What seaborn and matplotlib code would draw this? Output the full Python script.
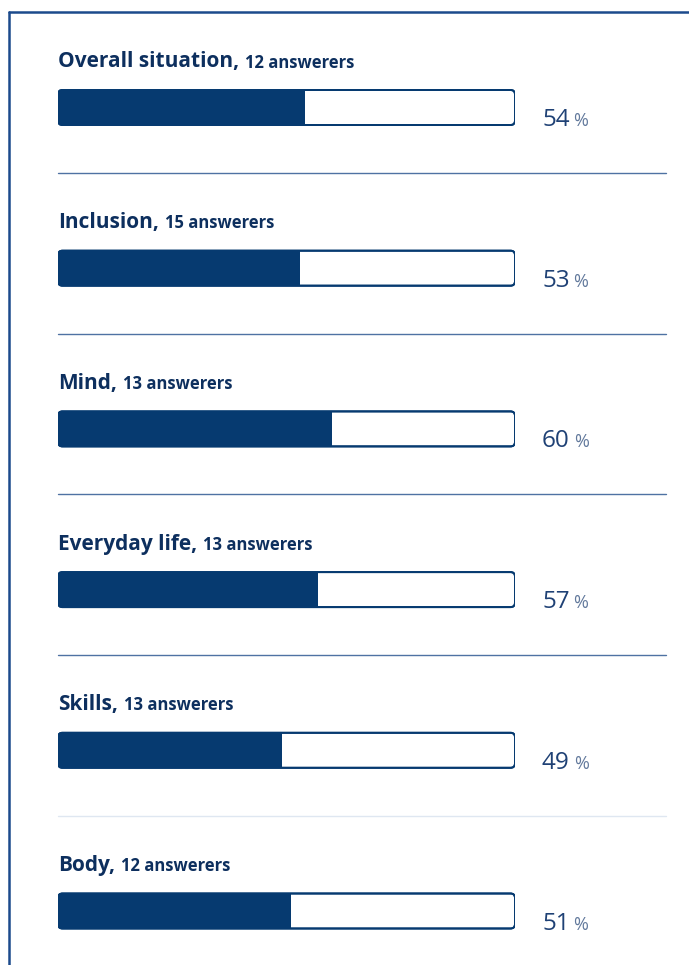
import matplotlib
matplotlib.use("Agg")
import matplotlib.pyplot as plt
import seaborn as sns
import pandas as pd
from matplotlib.patches import FancyBboxPatch
from matplotlib.lines import Line2D
import matplotlib.transforms as mtrans

# ---- data ----
categories = ["Overall situation", "Inclusion", "Mind", "Everyday life", "Skills", "Body"]
answerers = [12, 15, 13, 13, 13, 12]
percent = [54, 53, 60, 57, 49, 51]
full = [100, 100, 100, 100, 100, 100]

NAVY = "#063a70"
TITLE = "#0d2f5e"
NUM = "#1f4175"
PCT = "#62799c"
SEP = "#4f72a3"
SEP_LIGHT = "#dfe7f1"
FRAME = "#1c4a8c"

sns.set_theme(style="white")
plt.rcParams["font.family"] = ["Open Sans", "DejaVu Sans"]

W, H = 689, 965
fig = plt.figure(figsize=(W / 100, H / 100), dpi=100)
fig.patch.set_facecolor("white")

bx0, bx1 = 58, 515
ax = fig.add_axes([bx0 / W, 0, (bx1 - bx0) / W, 1])
ax.set_facecolor("none")

df = pd.DataFrame({"cat": categories, "pct": percent, "full": full})

bar_w = 35 / 160.7
sns.barplot(data=df, y="cat", x="full", orient="h", ax=ax, color="white",
            width=bar_w, saturation=1)
n_bg = len(ax.patches)
sns.barplot(data=df, y="cat", x="pct", orient="h", ax=ax, color=NAVY,
            width=bar_w, saturation=1)

c0 = 107.5
step = 160.7
ax.set_xlim(0, 100)
ax.set_ylim((H - c0) / step, -c0 / step)
ax.axis("off")

px_x = (bx1 - bx0) / 100.0
px_y = step
r_px = 4.5
bg_patches = list(ax.patches[:n_bg])
fg_patches = list(ax.patches[n_bg:])
rounded = []
for p in bg_patches:
    x, y = p.get_x(), p.get_y()
    w, h = p.get_width(), p.get_height()
    p.remove()
    fb = FancyBboxPatch((x, y), w, h,
                        boxstyle=f"round,pad=0,rounding_size={r_px / px_x}",
                        mutation_aspect=px_x / px_y,
                        facecolor="white", edgecolor=NAVY, linewidth=1.4,
                        zorder=2)
    ax.add_patch(fb)
    rounded.append(fb)
for p, fb in zip(fg_patches, rounded):
    p.set_zorder(3)
    p.set_edgecolor("none")
    p.set_clip_path(fb)
for fb in rounded:
    ol = FancyBboxPatch((fb.get_x(), fb.get_y()), fb.get_width(), fb.get_height(),
                        boxstyle=f"round,pad=0,rounding_size={r_px / px_x}",
                        mutation_aspect=px_x / px_y,
                        facecolor="none", edgecolor=NAVY, linewidth=1.4,
                        zorder=4)
    ax.add_patch(ol)

# separators
sep_right = (666 - bx0) / px_x
for i in range(len(categories) - 1):
    yy = i + 65.5 / step
    col = SEP_LIGHT if i == len(categories) - 2 else SEP
    ax.add_line(Line2D([0, sep_right], [yy, yy], color=col, lw=1.0,
                       clip_on=False, zorder=1))

# titles and values
fig.canvas.draw()
rend = fig.canvas.get_renderer()
for i, (c, n, v) in enumerate(zip(categories, answerers, percent)):
    ty = i - 40.0 / step
    t1 = ax.text(0, ty, c + ",", fontsize=15, fontweight="bold", color=TITLE,
                 va="baseline", ha="left", clip_on=False)
    bb = t1.get_window_extent(renderer=rend)
    tr = mtrans.offset_copy(ax.transData, fig=fig, x=(bb.width + 6) * 72 / 100, y=0,
                            units="points")
    ax.text(0, ty, f"{n} answerers", fontsize=12, fontweight="bold", color=TITLE,
            va="baseline", ha="left", transform=tr, clip_on=False)

    vy = i + 18.5 / step
    vx = (542 - bx0) / px_x
    t3 = ax.text(vx, vy, f"{v}", fontsize=17.5, color=NUM, va="baseline",
                 ha="left", clip_on=False)
    bb3 = t3.get_window_extent(renderer=rend)
    tr3 = mtrans.offset_copy(ax.transData, fig=fig, x=(bb3.width + 4) * 72 / 100, y=0,
                             units="points")
    ax.text(vx, vy, "%", fontsize=13, color=PCT, va="baseline", ha="left",
            transform=tr3, clip_on=False)

# frame (top and left)
fig.add_artist(Line2D([8.5 / W, 1], [1 - 11.5 / H, 1 - 11.5 / H],
                      transform=fig.transFigure, color=FRAME, lw=1.8))
fig.add_artist(Line2D([8.5 / W, 8.5 / W], [0, 1 - 11.5 / H],
                      transform=fig.transFigure, color=FRAME, lw=1.8))

fig.savefig("out.png", dpi=100, facecolor="white")
